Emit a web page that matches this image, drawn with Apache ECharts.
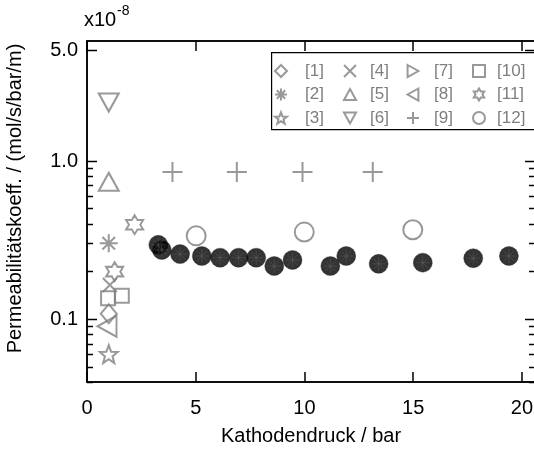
<!DOCTYPE html>
<html>
<head>
<meta charset="utf-8">
<script src="https://cdn.jsdelivr.net/npm/echarts@6/dist/echarts.min.js"></script>
<style>
html,body{margin:0;padding:0;background:#fff;}
#chart{width:534px;height:450px;}
</style>
</head>
<body>
<div id="chart"></div>
<script>
// Literature values, cathode pressure (bar) vs permeability (x10^-8 mol/s/bar/m)
const ref1  = [[1.00, 0.108]];
const ref2  = [[1.00, 0.301]];
const ref3  = [[1.00, 0.060]];
const ref4  = [[1.05, 0.164]];
const ref5  = [[1.00, 0.736]];
const ref6  = [[1.00, 2.33]];
const ref7  = [];
const ref8  = [[0.92, 0.090]];
const ref9  = [[3.93, 0.848], [6.89, 0.848], [9.91, 0.848], [13.14, 0.848]];
const ref10 = [[0.97, 0.135], [1.60, 0.140]];
const ref11 = [[1.27, 0.199], [2.19, 0.394]];
const ref12 = [[5.02, 0.335], [9.99, 0.354], [14.98, 0.366]];

// Own measurements
const ownPressure = [3.28, 3.44, 4.28, 5.28, 6.12, 6.97, 7.78, 8.61, 9.45, 11.19, 11.92, 13.41, 15.44, 17.76, 19.40];
const ownPerm     = [0.294, 0.273, 0.257, 0.250, 0.244, 0.244, 0.244, 0.216, 0.236, 0.216, 0.250, 0.223, 0.227, 0.242, 0.250];

// Axis ticks
const yMajorTicks  = [0.1, 1.0, 5.0];
const yMajorLabels = ['0.1', '1.0', '5.0'];
const yMinorTicks  = [0.04, 0.05, 0.06, 0.07, 0.08, 0.09, 0.2, 0.3, 0.4, 0.5, 0.6, 0.7, 0.8, 0.9];

const legendNames = ['[1]', '[2]', '[3]', '[4]', '[5]', '[6]', '[7]', '[8]', '[9]', '[10]', '[11]', '[12]'];

const GRAY = '#7f7f7f';
const FONT = "'Liberation Sans', Arial, Helvetica, sans-serif";

const SYM = {
  diamond:  'path://M5,0L10,5L5,10L0,5Z',
  asterisk: 'path://M5,0L5,10M0,5L10,5M1.5,1.5L8.5,8.5M1.5,8.5L8.5,1.5',
  star5:    'path://M5,0L6.234,3.301L9.755,3.455L6.997,5.649L7.939,9.045L5,7.1L2.061,9.045L3.003,5.649L0.245,3.455L3.766,3.301Z',
  cross:    'path://M0,0L10,10M0,10L10,0',
  triUp:    'path://M5,0L10,9L0,9Z',
  triDown:  'path://M0,0L10,0L5,9Z',
  triRight: 'path://M0,0L9,5L0,10Z',
  triLeft:  'path://M9,0L0,5L9,10Z',
  plus:     'path://M5,0L5,10M0,5L10,5',
  square:   'path://M0,0L10,0L10,10L0,10Z',
  hexagram: 'path://M5,0L6.443,2.5L9.33,2.5L7.887,5L9.33,7.5L6.443,7.5L5,10L3.557,7.5L0.67,7.5L2.113,5L0.67,2.5L3.557,2.5Z',
  circle:   'circle',
  spokes:   'path://M5,0L5,10M0,5L10,5M1.46,1.46L8.54,8.54M1.46,8.54L8.54,1.46'
};

function litSeries(name, data, symbol, size) {
  return {
    name: name,
    type: 'scatter',
    data: data,
    symbol: symbol,
    symbolSize: size,
    itemStyle: { color: 'rgba(0,0,0,0)', borderColor: GRAY, borderWidth: 2 },
    emphasis: { disabled: true },
    z: 3
  };
}

const ownData = ownPressure.map((p, i) => [p, ownPerm[i]]);

// Y ticks on both sides of the frame (log axis), labels for the major ones
const yTickValues = yMajorTicks.concat(yMinorTicks);
function renderYTick(params, api) {
  const idx = params.dataIndex;
  const major = idx < yMajorTicks.length;
  const cs = params.coordSys;
  const y = Math.round(api.coord([0, api.value(1)])[1]) + 0.5;
  const len = major ? 10 : 6;
  const children = [
    { type: 'line', shape: { x1: cs.x, y1: y, x2: cs.x + len, y2: y }, style: { stroke: '#000', lineWidth: 1.5 } },
    { type: 'line', shape: { x1: cs.x + cs.width, y1: y, x2: cs.x + cs.width - len, y2: y }, style: { stroke: '#000', lineWidth: 1.5 } }
  ];
  if (major) {
    children.push({
      type: 'text', x: cs.x - 9, y: y,
      style: { text: yMajorLabels[idx], align: 'right', verticalAlign: 'middle', fontSize: 20, fontFamily: FONT, fill: '#000' }
    });
  }
  return { type: 'group', children: children };
}

const legendCols = [
  { left: 274, names: legendNames.slice(0, 3), pad: 13 },
  { left: 343, names: legendNames.slice(3, 6), pad: 9 },
  { left: 406, names: legendNames.slice(6, 9), pad: 10 },
  { left: 472, names: legendNames.slice(9, 12), pad: 7 }
];

const option = {
  animation: false,
  backgroundColor: '#fff',
  textStyle: { fontFamily: FONT },
  grid: {
    left: 87, top: 41, width: 448, height: 341,
    outerBoundsMode: 'none', containLabel: false,
    show: true, borderColor: '#000', borderWidth: 1.5, backgroundColor: 'rgba(0,0,0,0)'
  },
  xAxis: [{
    type: 'value', position: 'bottom', min: 0, max: 20.6, interval: 5,
    name: 'Kathodendruck / bar', nameLocation: 'middle', nameGap: 44,
    nameTextStyle: { fontSize: 20, color: '#000', fontFamily: FONT },
    axisLine: { show: true, lineStyle: { color: '#000', width: 1.5 } },
    axisTick: { show: true, inside: true, length: 10, lineStyle: { color: '#000', width: 1.5 } },
    axisLabel: { fontSize: 20, color: '#000', margin: 16, fontFamily: FONT, showMaxLabel: false,
      formatter: v => (v % 5 === 0 ? String(v) : '') },
    splitLine: { show: false }
  }, {
    type: 'value', position: 'top', min: 0, max: 20.6, interval: 5,
    axisLine: { show: true, lineStyle: { color: '#000', width: 1.5 } },
    axisTick: { show: true, inside: true, length: 10, lineStyle: { color: '#000', width: 1.5 } },
    axisLabel: { show: false },
    splitLine: { show: false }
  }],
  yAxis: {
    type: 'log', logBase: 10, min: 0.04, max: 5.7,
    name: 'Permeabilitätskoeff. / (mol/s/bar/m)', nameLocation: 'middle', nameGap: 62,
    nameTextStyle: { fontSize: 20, color: '#000', fontFamily: FONT, padding: [0, 0, 0, 26] },
    axisLine: { show: true, lineStyle: { color: '#000', width: 1.5 } },
    axisTick: { show: false }, axisLabel: { show: false },
    splitLine: { show: false }
  },
  legend: legendCols.map(c => ({
    orient: 'vertical', left: c.left, top: 62, padding: 0,
    itemWidth: 12, itemHeight: 12, itemGap: 5.5,
    data: c.names,
    textStyle: { color: GRAY, fontSize: 17, lineHeight: 18, fontFamily: FONT, padding: [0, 0, 0, c.pad] },
    selectedMode: false, z: 10
  })),
  graphic: [
    { type: 'rect', left: 271, top: 52, shape: { width: 270, height: 77 },
      style: { fill: '#fff', stroke: '#000', lineWidth: 1.2 }, z: 5 },
    { type: 'text', left: 84, top: 10, style: { text: 'x10', fontSize: 20, fontFamily: FONT, fill: '#000' } },
    { type: 'text', left: 117, top: 4, style: { text: '-8', fontSize: 14, fontFamily: FONT, fill: '#000' } }
  ],
  series: [
    litSeries('[1]', ref1, SYM.diamond, [16, 19]),
    litSeries('[2]', ref2, SYM.asterisk, 18),
    litSeries('[3]', ref3, SYM.star5, 18),
    litSeries('[4]', ref4, SYM.cross, 14),
    litSeries('[5]', ref5, SYM.triUp, [20, 18]),
    litSeries('[6]', ref6, SYM.triDown, [20, 18]),
    litSeries('[7]', ref7, SYM.triRight, [17, 20]),
    litSeries('[8]', ref8, SYM.triLeft, [19, 21]),
    litSeries('[9]', ref9, SYM.plus, 20),
    litSeries('[10]', ref10, SYM.square, 14),
    litSeries('[11]', ref11, SYM.hexagram, [17, 19]),
    litSeries('[12]', ref12, SYM.circle, 19),
    {
      name: 'own', type: 'scatter', data: ownData, symbol: 'circle', symbolSize: 19,
      itemStyle: { color: '#000', borderColor: '#222', borderWidth: 0.5 },
      emphasis: { disabled: true }, z: 4
    },
    {
      name: 'ownSpokes', type: 'scatter', data: ownData, symbol: SYM.spokes, symbolSize: 14,
      itemStyle: { color: 'rgba(0,0,0,0)', borderColor: '#6a6a6a', borderWidth: 0.5 },
      emphasis: { disabled: true }, z: 5
    },
    {
      name: 'yTicks', type: 'custom', data: yTickValues.map(v => [0, v]), renderItem: renderYTick,
      encode: { x: 0, y: 1 }, clip: false, silent: true, z: 6
    }
  ]
};

const chart = echarts.init(document.getElementById('chart'), null, { renderer: 'canvas' });
chart.setOption(option);
</script>
</body>
</html>
